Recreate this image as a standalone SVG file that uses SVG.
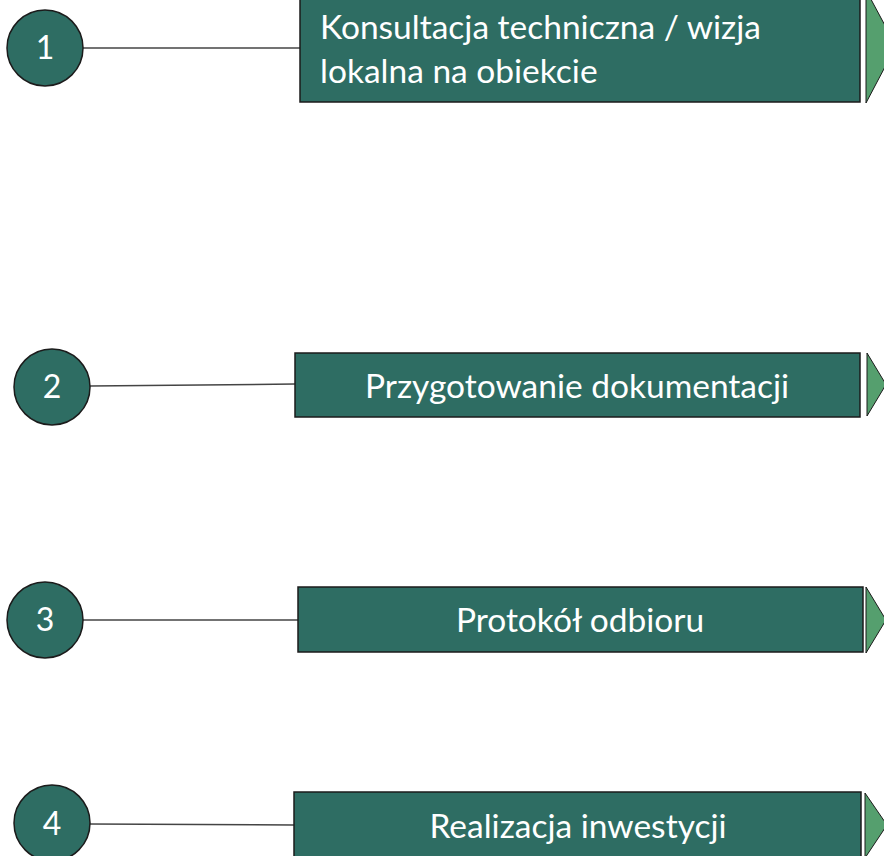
<svg xmlns="http://www.w3.org/2000/svg" width="884" height="856" viewBox="0 0 884 856">
<style>
.c{fill:#2e6d63;stroke:#1b1b1b;stroke-width:1.5}
.r{fill:#2e6d63;stroke:#1b1b1b;stroke-width:1.5}
.t{fill:#559f6e;stroke:#1b1b1b;stroke-width:1}
.l{stroke:#444;stroke-width:1.5;fill:none}
text{font-family:Lato,"Open Sans","Liberation Sans",sans-serif;fill:#fff}
.n{font-size:32px;text-anchor:middle}
.x{font-size:33.5px}
.m{text-anchor:middle}
</style>
<rect width="884" height="856" fill="#fff"/>
<g id="connectors">
<line class="l" x1="83" y1="48" x2="300" y2="48"/>
<line class="l" x1="90" y1="386" x2="295" y2="384"/>
<line class="l" x1="83" y1="620" x2="298" y2="620"/>
<line class="l" x1="89" y1="824" x2="294" y2="825"/>
</g>
<g id="node1">
<circle class="c" cx="45" cy="48" r="38"/>
<text class="n" x="45" y="59">1</text>
<rect class="r" x="300" y="-10" width="560" height="112"/>
<text class="x" x="320" y="39">Konsultacja techniczna / wizja</text>
<text class="x" x="320" y="83">lokalna na obiekcie</text>
<polygon class="t" points="866,-10 866,103 896,46"/>
</g>
<g id="node2">
<circle class="c" cx="52" cy="387" r="38"/>
<text class="n" x="52" y="398">2</text>
<rect class="r" x="295" y="353" width="565" height="64"/>
<text class="x m" x="577" y="398">Przygotowanie dokumentacji</text>
<polygon class="t" points="867,353 867,416 886,384.5"/>
</g>
<g id="node3">
<circle class="c" cx="45" cy="620" r="38"/>
<text class="n" x="45" y="631">3</text>
<rect class="r" x="298" y="587" width="565" height="65"/>
<text class="x m" x="580" y="632">Protokół odbioru</text>
<polygon class="t" points="866,587 866,653 886,620"/>
</g>
<g id="node4">
<circle class="c" cx="52" cy="823" r="38"/>
<text class="n" x="52" y="835">4</text>
<rect class="r" x="294" y="792" width="567" height="66"/>
<text class="x m" x="578" y="838">Realizacja inwestycji</text>
<polygon class="t" points="865,793 865,858 887,825"/>
</g>
</svg>
